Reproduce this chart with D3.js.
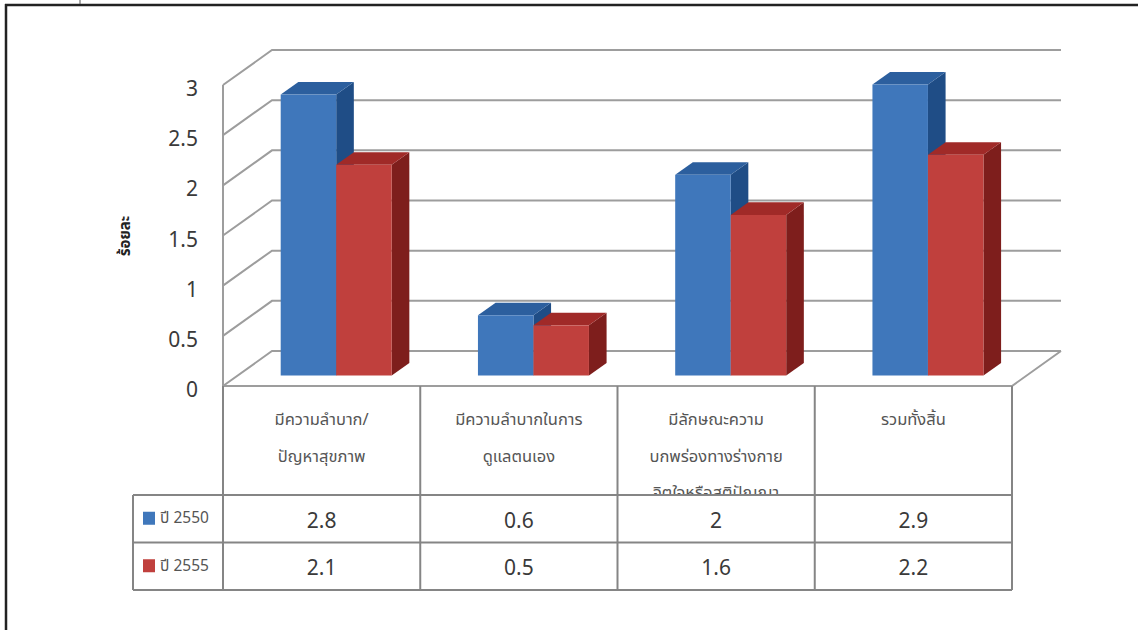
<!DOCTYPE html>
<html>
<head>
<meta charset="utf-8">
<script src="https://cdn.jsdelivr.net/npm/d3@7"></script>
<style>
  html, body { margin: 0; padding: 0; background: #fff; }
  svg { display: block; }
  .num { font-family: "Noto Sans", "Open Sans", sans-serif; fill: #3a3a3a; }
  .thai { font-family: "Noto Sans Thai", "Noto Sans", "DejaVu Sans", sans-serif; fill: #555; }
</style>
</head>
<body>
<svg id="chart" width="1138" height="630"></svg>
<script>
// Categories (each label wraps onto separate lines in the table header)
const categories = [
  "มีความลำบาก/\nปัญหาสุขภาพ",
  "มีความลำบากในการ\nดูแลตนเอง",
  "มีลักษณะความ\nบกพร่องทางร่างกาย\nจิตใจหรือสติปัญญา",
  "รวมทั้งสิ้น"
];
const seriesNames = ["ปี 2550", "ปี 2555"];
const values2550 = [2.8, 0.6, 2, 2.9];
const values2555 = [2.1, 0.5, 1.6, 2.2];
const yTicks = [0, 0.5, 1, 1.5, 2, 2.5, 3];
const yTickLabels = ["0", "0.5", "1", "1.5", "2", "2.5", "3"];
const yTitle = "ร้อยละ";

const seriesValues = [values2550, values2555];
const palette = [
  { front: "#3f77bb", top: "#2c5f9e", side: "#1f4d86" },
  { front: "#c0403d", top: "#a02a28", side: "#7e1e1c" }
];

const svg = d3.select("#chart");

// Front-plane scales; depth is projected as an oblique offset
const x = d3.scaleBand().domain(categories).range([223, 1012]).padding(0);
const y = d3.scaleLinear().domain([0, 3]).range([386, 85]);
const xs = d3.scaleBand().domain(seriesNames).range([43, 154]).padding(0);
const DX = 49, DY = -35;            // full floor depth offset
const T0 = 0.3, T1 = 0.66;          // bar front / back depth fractions
const backRight = x.range()[1] + DX;

// Outer frame
svg.append("line").attr("x1", 5).attr("y1", 5).attr("x2", 1138).attr("y2", 5)
  .attr("stroke", "#222").attr("stroke-width", 2.5);
svg.append("line").attr("x1", 6).attr("y1", 4).attr("x2", 6).attr("y2", 630)
  .attr("stroke", "#222").attr("stroke-width", 2.5);
svg.append("line").attr("x1", 80).attr("y1", 0).attr("x2", 80).attr("y2", 4)
  .attr("stroke", "#555").attr("stroke-width", 1);

// Gridlines: side wall diagonal + back wall horizontal
const grid = svg.append("g").attr("fill", "none").attr("stroke", "#9d9d9d").attr("stroke-width", 2);
yTicks.forEach(v => {
  const x0 = x.range()[0], yv = y(v);
  grid.append("path").attr("d", d3.line()([[x0, yv], [x0 + DX, yv + DY], [backRight, yv + DY]]));
});
// Floor edges
grid.append("path").attr("d", d3.line()([[x.range()[0], y(0)], [x.range()[1], y(0)], [backRight, y(0) + DY]]));
// Front vertical axis
grid.append("line").attr("x1", x.range()[0]).attr("y1", y(3)).attr("x2", x.range()[0]).attr("y2", y(0));

// Y tick labels
svg.append("g").selectAll("text").data(yTicks).join("text")
  .attr("class", "num")
  .attr("x", 198).attr("y", d => y(d) + 3)
  .attr("text-anchor", "end").attr("dominant-baseline", "central")
  .attr("font-size", 21)
  .text((d, i) => yTickLabels[i]);

// Y axis title
svg.append("text").attr("class", "thai")
  .attr("transform", "translate(125,236) rotate(-90)")
  .attr("text-anchor", "middle").attr("dominant-baseline", "central")
  .attr("font-size", 15).attr("font-weight", "bold").style("fill", "#222")
  .text(yTitle);

// 3D bars
const bars = svg.append("g");
categories.forEach((cat, ci) => {
  seriesNames.forEach((s, si) => {
    const v = seriesValues[si][ci];
    const c = palette[si];
    const fx0 = x(cat) + xs(s) + DX * T0;
    const fx1 = fx0 + xs.bandwidth();
    const fyTop = y(v) + DY * T0;
    const fyBot = y(0) + DY * T0;
    const ox = DX * (T1 - T0), oy = DY * (T1 - T0);
    const g = bars.append("g");
    g.append("path").attr("fill", c.side)
      .attr("d", d3.line()([[fx1, fyTop], [fx1 + ox, fyTop + oy], [fx1 + ox, fyBot + oy], [fx1, fyBot]]) + "Z");
    g.append("path").attr("fill", c.top)
      .attr("d", d3.line()([[fx0, fyTop], [fx1, fyTop], [fx1 + ox, fyTop + oy], [fx0 + ox, fyTop + oy]]) + "Z");
    g.append("rect").attr("fill", c.front)
      .attr("x", fx0).attr("y", fyTop).attr("width", fx1 - fx0).attr("height", fyBot - fyTop);
  });
});

// Data table
const tableTop = 495, rowH = 47.5, legendLeft = 133;
const tbl = svg.append("g");
svg.append("defs").append("clipPath").attr("id", "hdrClip")
  .append("rect").attr("x", x.range()[0]).attr("y", y(0)).attr("width", x.range()[1] - x.range()[0]).attr("height", tableTop - y(0));

const hdr = tbl.append("g").attr("clip-path", "url(#hdrClip)");
categories.forEach(cat => {
  const t = hdr.append("text").attr("class", "thai")
    .attr("text-anchor", "middle").attr("font-size", 16.5);
  cat.split("\n").forEach((line, li) => {
    t.append("tspan").attr("x", x(cat) + x.bandwidth() / 2)
      .attr("y", 425 + li * 36.5).text(line);
  });
});

seriesNames.forEach((s, si) => {
  const rowY = tableTop + si * rowH;
  tbl.append("rect").attr("x", 143).attr("y", rowY + rowH / 2 - 7)
    .attr("width", 12).attr("height", 13).attr("fill", palette[si].front);
  tbl.append("text").attr("class", "thai")
    .attr("x", 160).attr("y", rowY + rowH / 2)
    .attr("dominant-baseline", "central").attr("font-size", 15.5)
    .text(s);
  categories.forEach((cat, ci) => {
    tbl.append("text").attr("class", "num")
      .attr("x", x(cat) + x.bandwidth() / 2).attr("y", rowY + rowH / 2 + 1)
      .attr("text-anchor", "middle").attr("dominant-baseline", "central")
      .attr("font-size", 21)
      .text(seriesValues[si][ci]);
  });
});

// Table borders
const tb = tbl.append("g").attr("stroke", "#858585").attr("stroke-width", 2).attr("fill", "none");
[0, 1, 2].forEach(r => {
  const yy = tableTop + r * rowH;
  tb.append("line").attr("x1", legendLeft).attr("y1", yy).attr("x2", x.range()[1]).attr("y2", yy);
});
tb.append("line").attr("x1", legendLeft).attr("y1", tableTop).attr("x2", legendLeft).attr("y2", tableTop + 2 * rowH);
const bounds = categories.map(c => x(c)).concat([x.range()[1]]);
bounds.forEach(bx => {
  tb.append("line").attr("x1", bx).attr("y1", y(0)).attr("x2", bx).attr("y2", tableTop + 2 * rowH);
});
</script>
</body>
</html>
